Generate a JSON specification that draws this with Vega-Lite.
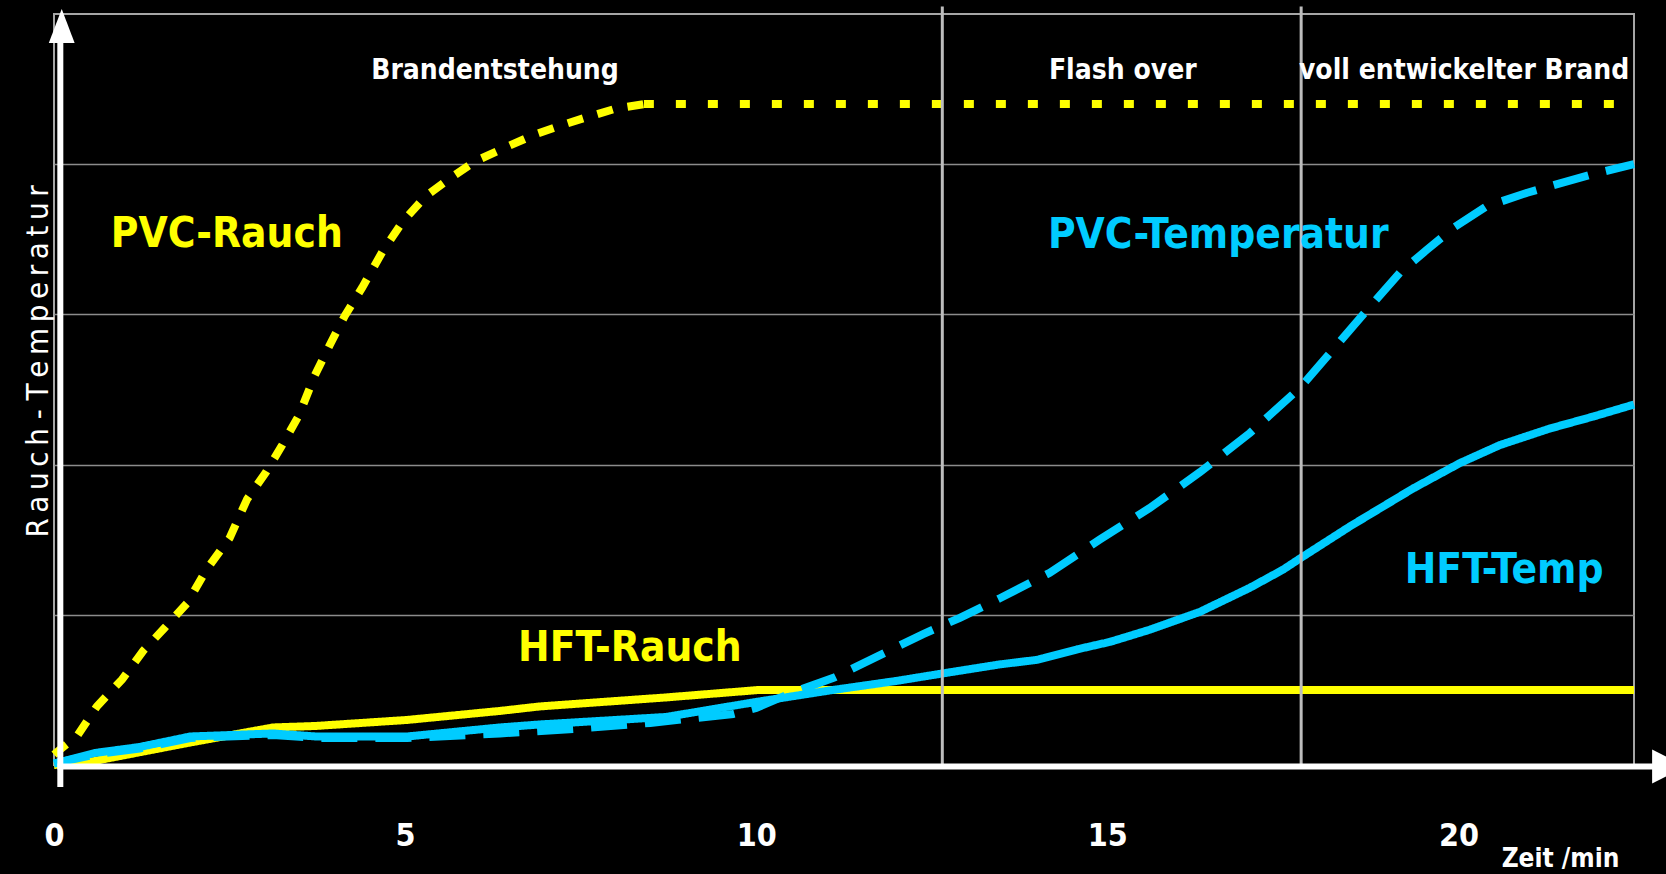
{
  "$schema": "https://vega.github.io/schema/vega-lite/v6.json",
  "background": "black",
  "width": 1580,
  "height": 751,
  "autosize": {"type": "none"},
  "padding": {"left": 54, "top": 14, "right": 32, "bottom": 109},
  "config": {
    "view": {"stroke": "#a6a6a6", "strokeWidth": 2},
    "font": "DejaVu Sans Condensed, DejaVu Sans, sans-serif"
  },
  "datasets": {
    "kurven": [
      {"serie": "PVC-Rauch", "stil": "kurz", "t": 0, "wert": 0.07},
      {"serie": "PVC-Rauch", "stil": "kurz", "t": 0.34, "wert": 0.2},
      {"serie": "PVC-Rauch", "stil": "kurz", "t": 0.61, "wert": 0.39},
      {"serie": "PVC-Rauch", "stil": "kurz", "t": 0.97, "wert": 0.57},
      {"serie": "PVC-Rauch", "stil": "kurz", "t": 1.27, "wert": 0.76},
      {"serie": "PVC-Rauch", "stil": "kurz", "t": 1.57, "wert": 0.91},
      {"serie": "PVC-Rauch", "stil": "kurz", "t": 1.9, "wert": 1.08},
      {"serie": "PVC-Rauch", "stil": "kurz", "t": 2.17, "wert": 1.3},
      {"serie": "PVC-Rauch", "stil": "kurz", "t": 2.5, "wert": 1.51},
      {"serie": "PVC-Rauch", "stil": "kurz", "t": 2.75, "wert": 1.77},
      {"serie": "PVC-Rauch", "stil": "kurz", "t": 3.02, "wert": 1.95},
      {"serie": "PVC-Rauch", "stil": "kurz", "t": 3.25, "wert": 2.13},
      {"serie": "PVC-Rauch", "stil": "kurz", "t": 3.49, "wert": 2.33},
      {"serie": "PVC-Rauch", "stil": "kurz", "t": 3.71, "wert": 2.59},
      {"serie": "PVC-Rauch", "stil": "kurz", "t": 3.92, "wert": 2.79},
      {"serie": "PVC-Rauch", "stil": "kurz", "t": 4.14, "wert": 2.99},
      {"serie": "PVC-Rauch", "stil": "kurz", "t": 4.39, "wert": 3.18},
      {"serie": "PVC-Rauch", "stil": "kurz", "t": 4.68, "wert": 3.42},
      {"serie": "PVC-Rauch", "stil": "kurz", "t": 4.97, "wert": 3.62},
      {"serie": "PVC-Rauch", "stil": "kurz", "t": 5.3, "wert": 3.79},
      {"serie": "PVC-Rauch", "stil": "kurz", "t": 5.65, "wert": 3.91},
      {"serie": "PVC-Rauch", "stil": "kurz", "t": 6.0, "wert": 4.02},
      {"serie": "PVC-Rauch", "stil": "kurz", "t": 6.42, "wert": 4.11},
      {"serie": "PVC-Rauch", "stil": "kurz", "t": 6.86, "wert": 4.2},
      {"serie": "PVC-Rauch", "stil": "kurz", "t": 7.3, "wert": 4.27},
      {"serie": "PVC-Rauch", "stil": "kurz", "t": 7.57, "wert": 4.31},
      {"serie": "PVC-Rauch", "stil": "kurz", "t": 8.0, "wert": 4.37},
      {"serie": "PVC-Rauch", "stil": "kurz", "t": 8.4, "wert": 4.4},
      {"serie": "PVC-Rauch", "stil": "punkt", "t": 8.4, "wert": 4.4},
      {"serie": "PVC-Rauch", "stil": "punkt", "t": 22.5, "wert": 4.4},
      {"serie": "HFT-Rauch", "stil": "voll", "t": 0, "wert": 0.0},
      {"serie": "HFT-Rauch", "stil": "voll", "t": 0.5, "wert": 0.02},
      {"serie": "HFT-Rauch", "stil": "voll", "t": 1.94, "wert": 0.15},
      {"serie": "HFT-Rauch", "stil": "voll", "t": 3.12, "wert": 0.25},
      {"serie": "HFT-Rauch", "stil": "voll", "t": 3.73, "wert": 0.26},
      {"serie": "HFT-Rauch", "stil": "voll", "t": 5.03, "wert": 0.3},
      {"serie": "HFT-Rauch", "stil": "voll", "t": 6.35, "wert": 0.36},
      {"serie": "HFT-Rauch", "stil": "voll", "t": 6.92, "wert": 0.39},
      {"serie": "HFT-Rauch", "stil": "voll", "t": 8.72, "wert": 0.45},
      {"serie": "HFT-Rauch", "stil": "voll", "t": 10.05, "wert": 0.5},
      {"serie": "HFT-Rauch", "stil": "voll", "t": 22.5, "wert": 0.5},
      {"serie": "PVC-Temperatur", "stil": "strich", "t": 0, "wert": 0.01},
      {"serie": "PVC-Temperatur", "stil": "strich", "t": 0.58, "wert": 0.07},
      {"serie": "PVC-Temperatur", "stil": "strich", "t": 1.22, "wert": 0.11},
      {"serie": "PVC-Temperatur", "stil": "strich", "t": 1.94, "wert": 0.18},
      {"serie": "PVC-Temperatur", "stil": "strich", "t": 3.12, "wert": 0.2},
      {"serie": "PVC-Temperatur", "stil": "strich", "t": 3.73, "wert": 0.18},
      {"serie": "PVC-Temperatur", "stil": "strich", "t": 5.03, "wert": 0.18},
      {"serie": "PVC-Temperatur", "stil": "strich", "t": 6.35, "wert": 0.21},
      {"serie": "PVC-Temperatur", "stil": "strich", "t": 7.4, "wert": 0.24},
      {"serie": "PVC-Temperatur", "stil": "strich", "t": 8.49, "wert": 0.28},
      {"serie": "PVC-Temperatur", "stil": "strich", "t": 9.67, "wert": 0.34},
      {"serie": "PVC-Temperatur", "stil": "strich", "t": 10.0, "wert": 0.38},
      {"serie": "PVC-Temperatur", "stil": "strich", "t": 10.5, "wert": 0.48},
      {"serie": "PVC-Temperatur", "stil": "strich", "t": 11.1, "wert": 0.58},
      {"serie": "PVC-Temperatur", "stil": "strich", "t": 11.8, "wert": 0.74},
      {"serie": "PVC-Temperatur", "stil": "strich", "t": 12.37, "wert": 0.87},
      {"serie": "PVC-Temperatur", "stil": "strich", "t": 12.9, "wert": 0.98},
      {"serie": "PVC-Temperatur", "stil": "strich", "t": 13.47, "wert": 1.11},
      {"serie": "PVC-Temperatur", "stil": "strich", "t": 14.18, "wert": 1.28},
      {"serie": "PVC-Temperatur", "stil": "strich", "t": 14.89, "wert": 1.5},
      {"serie": "PVC-Temperatur", "stil": "strich", "t": 15.6, "wert": 1.71},
      {"serie": "PVC-Temperatur", "stil": "strich", "t": 16.32, "wert": 1.95},
      {"serie": "PVC-Temperatur", "stil": "strich", "t": 17.03, "wert": 2.21},
      {"serie": "PVC-Temperatur", "stil": "strich", "t": 17.74, "wert": 2.51},
      {"serie": "PVC-Temperatur", "stil": "strich", "t": 18.13, "wert": 2.72},
      {"serie": "PVC-Temperatur", "stil": "strich", "t": 18.7, "wert": 3.03},
      {"serie": "PVC-Temperatur", "stil": "strich", "t": 19.17, "wert": 3.28},
      {"serie": "PVC-Temperatur", "stil": "strich", "t": 19.55, "wert": 3.43},
      {"serie": "PVC-Temperatur", "stil": "strich", "t": 19.94, "wert": 3.58},
      {"serie": "PVC-Temperatur", "stil": "strich", "t": 20.4, "wert": 3.72},
      {"serie": "PVC-Temperatur", "stil": "strich", "t": 20.98, "wert": 3.81},
      {"serie": "PVC-Temperatur", "stil": "strich", "t": 21.88, "wert": 3.93},
      {"serie": "PVC-Temperatur", "stil": "strich", "t": 22.5, "wert": 4.0},
      {"serie": "HFT-Temp", "stil": "voll", "t": 0, "wert": 0.01},
      {"serie": "HFT-Temp", "stil": "voll", "t": 0.58, "wert": 0.08},
      {"serie": "HFT-Temp", "stil": "voll", "t": 1.22, "wert": 0.12},
      {"serie": "HFT-Temp", "stil": "voll", "t": 1.94, "wert": 0.19},
      {"serie": "HFT-Temp", "stil": "voll", "t": 3.12, "wert": 0.21},
      {"serie": "HFT-Temp", "stil": "voll", "t": 3.73, "wert": 0.19},
      {"serie": "HFT-Temp", "stil": "voll", "t": 5.03, "wert": 0.19},
      {"serie": "HFT-Temp", "stil": "voll", "t": 6.35, "wert": 0.25},
      {"serie": "HFT-Temp", "stil": "voll", "t": 6.92, "wert": 0.27},
      {"serie": "HFT-Temp", "stil": "voll", "t": 8.72, "wert": 0.32},
      {"serie": "HFT-Temp", "stil": "voll", "t": 10.0, "wert": 0.42},
      {"serie": "HFT-Temp", "stil": "voll", "t": 11.1, "wert": 0.5},
      {"serie": "HFT-Temp", "stil": "voll", "t": 12.0, "wert": 0.56},
      {"serie": "HFT-Temp", "stil": "voll", "t": 12.66, "wert": 0.61},
      {"serie": "HFT-Temp", "stil": "voll", "t": 13.47, "wert": 0.67},
      {"serie": "HFT-Temp", "stil": "voll", "t": 14.0, "wert": 0.7},
      {"serie": "HFT-Temp", "stil": "voll", "t": 14.57, "wert": 0.77},
      {"serie": "HFT-Temp", "stil": "voll", "t": 15.04, "wert": 0.82},
      {"serie": "HFT-Temp", "stil": "voll", "t": 15.6, "wert": 0.9},
      {"serie": "HFT-Temp", "stil": "voll", "t": 16.32, "wert": 1.02},
      {"serie": "HFT-Temp", "stil": "voll", "t": 17.03, "wert": 1.18},
      {"serie": "HFT-Temp", "stil": "voll", "t": 17.5, "wert": 1.3},
      {"serie": "HFT-Temp", "stil": "voll", "t": 17.76, "wert": 1.38},
      {"serie": "HFT-Temp", "stil": "voll", "t": 18.46, "wert": 1.59},
      {"serie": "HFT-Temp", "stil": "voll", "t": 19.35, "wert": 1.84},
      {"serie": "HFT-Temp", "stil": "voll", "t": 20.02, "wert": 2.01},
      {"serie": "HFT-Temp", "stil": "voll", "t": 20.59, "wert": 2.13},
      {"serie": "HFT-Temp", "stil": "voll", "t": 21.3, "wert": 2.24},
      {"serie": "HFT-Temp", "stil": "voll", "t": 21.92, "wert": 2.32},
      {"serie": "HFT-Temp", "stil": "voll", "t": 22.5, "wert": 2.4}
    ],
    "beschriftung": [
      {"serie": "PVC-Rauch", "t": 2.46, "wert": 3.45},
      {"serie": "PVC-Temperatur", "t": 16.58, "wert": 3.44},
      {"serie": "HFT-Rauch", "t": 8.2, "wert": 0.69},
      {"serie": "HFT-Temp", "t": 20.65, "wert": 1.21}
    ],
    "phasen": [
      {"phase": "Brandentstehung", "t": 6.28, "wert": 4.57},
      {"phase": "Flash over", "t": 15.22, "wert": 4.57},
      {"phase": "voll entwickelter Brand", "t": 20.08, "wert": 4.57}
    ],
    "grenzen": [
      {"t": 12.65},
      {"t": 17.76}
    ]
  },
  "layer": [
    {
      "data": {"name": "kurven"},
      "mark": {"type": "line", "strokeWidth": 8, "strokeCap": "butt", "strokeJoin": "miter"},
      "encoding": {
        "x": {
          "field": "t", "type": "quantitative",
          "scale": {"domain": [0, 22.5], "nice": false, "zero": false},
          "axis": {
            "values": [0, 5, 10, 15, 20], "format": "d", "grid": false, "domain": false, "ticks": false, "tickSize": 0,
            "labelColor": "white", "labelFontSize": 32, "labelFontWeight": "bold", "labelPadding": 55,
            "labelFlush": false, "labelBound": false, "labelOverlap": false,
            "title": "Zeit /min", "titleColor": "white", "titleFontSize": 26, "titleFontWeight": "bold",
            "titleX": 1506, "titleY": 101, "titleAlign": "center", "titleBaseline": "alphabetic", "titleAnchor": null
          }
        },
        "y": {
          "field": "wert", "type": "quantitative",
          "scale": {"domain": [0, 5], "nice": false, "zero": false},
          "axis": {
            "values": [1, 2, 3, 4], "grid": true, "gridColor": "#8c8c8c", "gridWidth": 1.5,
            "labels": false, "ticks": false, "domain": false,
            "title": "R\u2009a\u2009u\u2009c\u2009h - T\u2009e\u2009m\u2009p\u2009e\u2009r\u2009a\u2009t\u2009u\u2009r", "titleColor": "white", "titleFontSize": 31, "titleFontWeight": "normal",
            "titleAngle": -90, "titleX": -7, "titleY": 347, "titleAlign": "center", "titleBaseline": "alphabetic"
          }
        },
        "color": {
          "field": "serie", "type": "nominal",
          "scale": {"domain": ["PVC-Rauch", "HFT-Rauch", "PVC-Temperatur", "HFT-Temp"], "range": ["#ffff00", "#ffff00", "#00ccff", "#00ccff"]},
          "legend": null
        },
        "strokeDash": {
          "field": "stil", "type": "nominal",
          "scale": {"domain": ["kurz", "punkt", "strich", "voll"], "range": [[16, 15], [10, 22], [36, 18], [1, 0]]},
          "legend": null
        },
        "order": {"field": "t", "type": "quantitative"}
      }
    },
    {
      "data": {"name": "grenzen"},
      "mark": {"type": "rule", "color": "#bdbdbd", "strokeWidth": 3},
      "encoding": {
        "x": {"field": "t", "type": "quantitative"},
        "y": {"datum": 0},
        "y2": {"datum": 5.05}
      }
    },
    {
      "data": {"values": [{}]},
      "mark": {"type": "rule", "color": "white", "strokeWidth": 6},
      "encoding": {
        "x": {"datum": 0.09},
        "y": {"datum": -0.146},
        "y2": {"datum": 4.82}
      }
    },
    {
      "data": {"values": [{}]},
      "mark": {"type": "rule", "color": "white", "strokeWidth": 6},
      "encoding": {
        "x": {"datum": 0.05},
        "x2": {"datum": 22.8},
        "y": {"datum": -0.01}
      }
    },
    {
      "data": {"values": [{}]},
      "mark": {"type": "point", "shape": "M0,-1L0.76,1L-0.76,1Z", "filled": true, "color": "white", "opacity": 1, "size": 1156},
      "encoding": {
        "x": {"datum": 0.11},
        "y": {"datum": 4.92}
      }
    },
    {
      "data": {"values": [{}]},
      "mark": {"type": "point", "shape": "M1,0L-1,-1L-1,1Z", "filled": true, "color": "white", "opacity": 1, "size": 1156},
      "encoding": {
        "x": {"datum": 23.0},
        "y": {"datum": -0.01}
      }
    },
    {
      "data": {"name": "phasen"},
      "mark": {"type": "text", "color": "white", "fontSize": 28, "fontWeight": "bold", "align": "center", "baseline": "alphabetic"},
      "encoding": {
        "x": {"field": "t", "type": "quantitative"},
        "y": {"field": "wert", "type": "quantitative"},
        "text": {"field": "phase"}
      }
    },
    {
      "data": {"name": "beschriftung"},
      "mark": {"type": "text", "fontSize": 42, "fontWeight": "bold", "align": "center", "baseline": "alphabetic"},
      "encoding": {
        "x": {"field": "t", "type": "quantitative"},
        "y": {"field": "wert", "type": "quantitative"},
        "text": {"field": "serie"},
        "color": {"field": "serie", "type": "nominal", "legend": null}
      }
    }
  ]
}
